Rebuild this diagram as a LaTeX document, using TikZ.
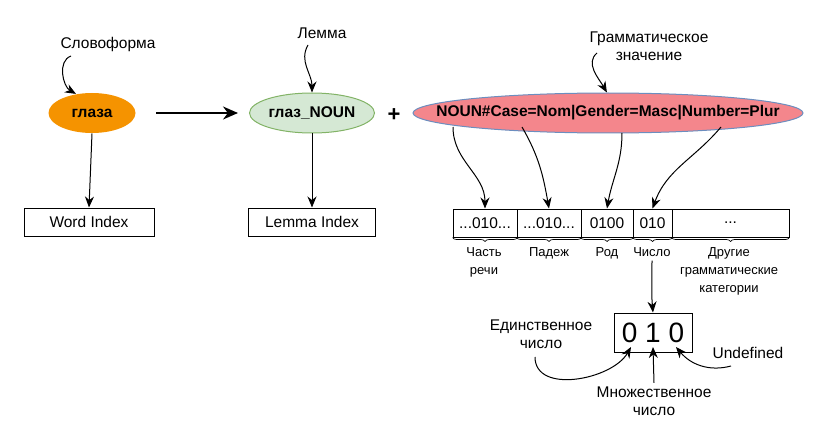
\documentclass[tikz,border=0pt]{standalone}
\usepackage{fontspec}
\setmainfont{Liberation Sans}
\usetikzlibrary{arrows.meta,decorations.pathreplacing,shapes.geometric}
\definecolor{formorange}{HTML}{F59300}
\definecolor{lemmagreen}{HTML}{D5E8D4}
\definecolor{lemmaline}{HTML}{82B366}
\definecolor{grampink}{HTML}{F4868C}
\definecolor{gramline}{HTML}{6C8EBF}

\begin{document}
\begin{tikzpicture}[x=1pt, y=-1pt, line width=1pt,
    font=\fontsize{15.5}{18}\selectfont,
    oval/.style={ellipse, inner sep=0pt, minimum height=40pt},
    ovaltext/.style={font=\fontsize{15.5}{18}\selectfont\bfseries},
    indexbox/.style={draw, rectangle, minimum width=130pt, minimum height=28pt, inner sep=0pt},
    bitcell/.style={draw, rectangle, minimum height=28pt, inner sep=0pt},
    lbl/.style={align=center, font=\fontsize{13}{18}\selectfont},
    arr/.style={-{Stealth[length=11pt, width=9pt]}}]
  \useasboundingbox (0,0) rectangle (823,444);
  % word form, lemma, grammatical value
  \node[oval, fill=formorange, minimum width=87pt] (form) at (92,113) {};
  \node[ovaltext] (formtxt) at (form.center) {глаза};
  \node[oval, draw=lemmaline, fill=lemmagreen, minimum width=125pt] (lemma) at (312,113) {};
  \node[ovaltext] (lemmatxt) at (lemma.center) {глаз\_NOUN};
  \node[oval, draw=gramline, fill=grampink, minimum width=390pt] (gram) at (608,113) {};
  \node[ovaltext] (gramtxt) at (gram.center) {NOUN\#Case=Nom|Gender=Masc|Number=Plur};
  \node[font=\fontsize{22}{22}\selectfont\bfseries] (plus) at (394,115) {+};
  % labels above
  \node (formlbl) at (108,44) {Словоформа};
  \node (lemmalbl) at (322,33) {Лемма};
  \node[align=center] (gramlbl) at (649,46) {Грамматическое\\значение};
  \draw[arr] (71,56) to[out=200, in=150] (form.130);
  \draw[arr] (308,45) to[out=240, in=90] (lemma.north);
  \draw[arr] (597,53) to[out=220, in=120] (gram.93);
  % indexes
  \node[indexbox] (wordidx) at (89,222) {Word Index};
  \node[indexbox, minimum width=127pt] (lemmaidx) at (312,222) {Lemma Index};
  \draw[arr] (form.south) -- (wordidx.north);
  \draw[arr] (lemma.south) -- (lemmaidx.north);
  \draw[-{Stealth[length=15pt, width=13pt]}, line width=2pt] (156,113) -- (238,113);
  % bit vector
  \node[bitcell, minimum width=64pt] (pos) at (485,223) {...010...};
  \node[bitcell, minimum width=64pt] (case) at (549,223) {...010...};
  \node[bitcell, minimum width=52pt] (gender) at (607,223) {0100};
  \node[bitcell, minimum width=39pt] (number) at (652.5,223) {010};
  \node[bitcell, minimum width=117pt] (other) at (730.5,223) {...};
  \draw[arr] (453,127) to[out=270, in=90] (pos.north);
  \draw[arr] (522,127) to[out=300, in=100] (case.north);
  \draw[arr] (622,133) to[out=270, in=80] (gender.north);
  \draw[arr] (721,127) to[out=230, in=70] (number.north);
  % braces
  \foreach \cell in {pos, case, gender, number, other}
    \draw[decorate, decoration={brace, mirror, amplitude=4pt}, line width=0.7pt]
      (\cell.south west) -- (\cell.south east);
  \node[lbl, anchor=north] (poslbl) at (484,244) {Часть\\речи};
  \node[lbl, anchor=north] (caselbl) at (549,244) {Падеж};
  \node[lbl, anchor=north] (genderlbl) at (607,244) {Род};
  \node[lbl, anchor=north] (numberlbl) at (652,244) {Число};
  \node[lbl, anchor=north] (otherlbl) at (729,244) {Другие\\грамматические\\категории};
  % number detail
  \node[draw, rectangle, minimum width=78pt, minimum height=39pt, inner sep=0pt,
    font=\fontsize{28}{28}\selectfont] (numbits) at (653,332.5) {0 1 0};
  \draw[arr] (numberlbl.south) to[out=270, in=95] (numbits.north);
  \node[align=center] (singlbl) at (541,334) {Единственное\\число};
  \node[align=center] (plurlbl) at (654,401) {Множественное\\число};
  \node (undeflbl) at (748,353) {Undefined};
  \draw[arr] (535,357) to[out=270, in=240] (631,347);
  \draw[arr] (plurlbl.north) -- (653,347);
  \draw[arr] (731,366) to[out=195, in=310] (676,347);
\end{tikzpicture}
\end{document}
